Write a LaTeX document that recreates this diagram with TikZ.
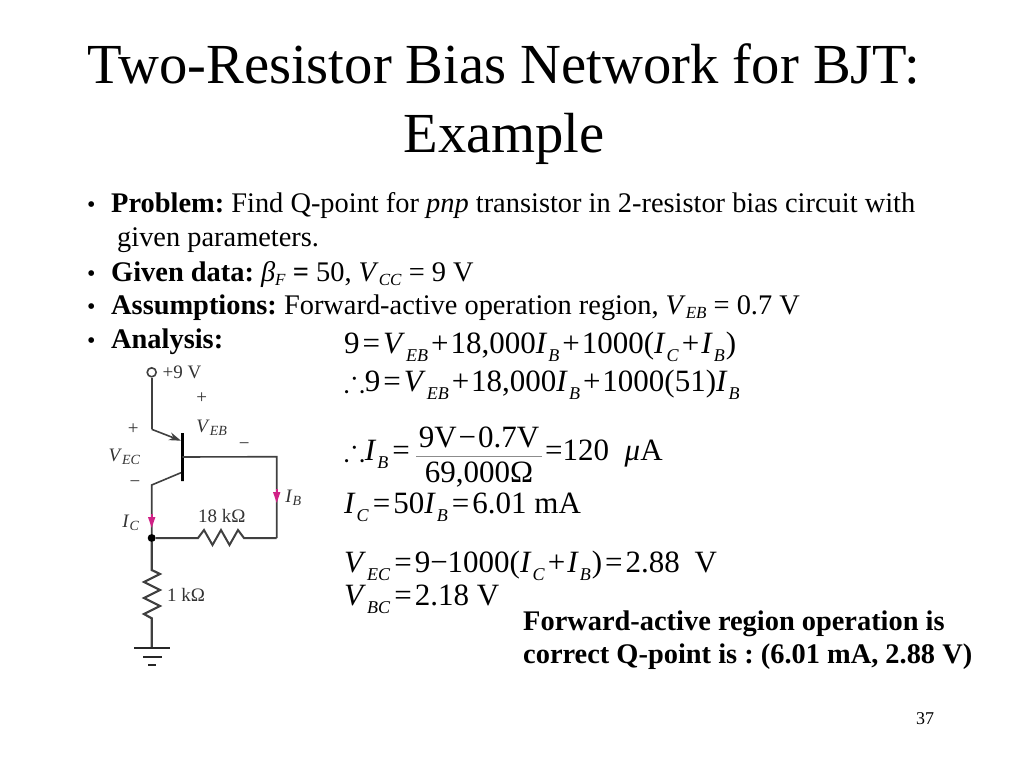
\documentclass[tikz,border=0pt]{standalone}
\usepackage{fix-cm}
\usepackage{amsmath}
\usepackage{amssymb}
\usepackage{fontspec}
\usetikzlibrary{arrows.meta}
\setmainfont{Liberation Serif}
\frenchspacing
\newcommand{\sizedto}[1]{\fontsize{#1}{#1}\selectfont}
\newcommand{\puce}{\makebox[24pt][l]{\sizedto{24}•}}
\newcommand{\lowtext}[1]{\raisebox{-4pt}{\sizedto{17}\textit{#1}}}
\newcommand{\eqlow}[1]{\kern1pt\raisebox{-8pt}{\sizedto{18}\textit{#1}}\kern1pt}
\newcommand{\lowlab}[1]{\raisebox{-3pt}{\sizedto{14}\textit{#1}}}
\newcommand{\equal}{\kern3pt=\kern3pt}
\newcommand{\plusop}{\kern2pt+\kern2pt}
\begin{document}
\begin{tikzpicture}[x=1pt,y=-1pt]
\tikzstyle{wire}=[draw=black!75,line width=1.6pt]
\tikzstyle{lien}=[-{Stealth[length=12pt,width=8pt]},draw=black!75,line width=1.6pt]
\tikzset{titre/.style={font=\sizedto{56.6},anchor=base},
corps/.style={font=\sizedto{28.4},anchor=base west,inner sep=0pt},
calcul/.style={font=\sizedto{31},anchor=base west,inner sep=0pt},
conclu/.style={font=\sizedto{28.4}\bfseries,anchor=base west,inner sep=0pt},
etiq/.style={font=\sizedto{19},text=black!80,inner sep=0pt},
courant/.style={-{Triangle[length=11pt,width=7pt]},draw=magenta!85!black,line width=1.6pt,shorten <=-1pt}}
\useasboundingbox (0,0) rectangle (1024,768);

\node[titre] (T1) at (504,83){Two-Resistor Bias Network for BJT:};
\node[titre] (T2) at (504,152){Example};

\node[corps] (P1) at (87,212){\puce\textbf{Problem:} Find Q-point for \textit{pnp} transistor in 2-resistor bias circuit with};
\node[corps] (P2) at (117,246){given parameters.};
\node[corps] (P3) at (87,281){\puce\textbf{Given data:} \textit{β}\lowtext{F} \textbf{=} 50, \textit{V}\lowtext{CC} = 9 V};
\node[corps] (P4) at (87,314){\puce\textbf{Assumptions:} Forward-active operation region, \textit{V}\lowtext{EB} = 0.7 V};
\node[corps] (P5) at (87,348){\puce\textbf{Analysis:}};

\node[calcul] (E1) at (344,353){9\equal\textit{V}\eqlow{EB}\plusop18,000\textit{I}\eqlow{B}\plusop1000(\textit{I}\eqlow{C}\plusop\textit{I}\eqlow{B})};
\node[calcul] (E2) at (344,391){$\therefore$9\equal\textit{V}\eqlow{EB}\plusop18,000\textit{I}\eqlow{B}\plusop1000(51)\textit{I}\eqlow{B}};
\node[calcul] (E3) at (344,460){$\therefore$\textit{I}\eqlow{B}\equal};
\node[fill=black!45,minimum width=126pt,minimum height=1pt,inner sep=0pt] (Barre) at (479,456){};
\node[font=\sizedto{31},anchor=base,inner sep=0pt] (Num) at (479,447){9V\kern2pt−\kern2pt0.7V};
\node[font=\sizedto{31},anchor=base,inner sep=0pt] (Den) at (479,482){69,000Ω};
\node[calcul] (E3b) at (545,460){=120 \ \textit{μ}A};
\node[calcul] (E4) at (344,513){\textit{I}\eqlow{C}\equal50\textit{I}\eqlow{B}\equal6.01 mA};
\node[calcul] (E5) at (344,572){\textit{V}\eqlow{EC}\equal9−1000(\textit{I}\eqlow{C}\plusop\textit{I}\eqlow{B})\equal2.88\kern7pt\ V};
\node[calcul] (E6) at (344,605){\textit{V}\eqlow{BC}\equal2.18 V};

\node[conclu] (C1) at (523,630){Forward-active region operation is};
\node[conclu] (C2) at (523,663){correct Q-point is : (6.01 mA, 2.88 V)};
\node[font=\sizedto{18}] (N) at (925,719){37};

\node[draw=black!75,line width=1.6pt,circle,minimum size=9pt,inner sep=0pt] (VCC) at (151.7,372.3){};
\node[draw=black,fill=black,line width=3pt,minimum width=0pt,minimum height=48pt,inner sep=0pt,outer sep=0pt] (Base) at (182.3,457){};
\node[circle,fill=black,minimum size=8pt,inner sep=0pt] (J) at (151.7,538){};
\coordinate (Emet) at (151.7,429.3);
\coordinate (EmetB) at (181,440.7);
\coordinate (Coll) at (151.7,485);
\coordinate (CollB) at (181,472.7);
\coordinate (BaseW) at (276.7,456.7);
\coordinate (Coin) at (276.7,538);
\coordinate (Gnd) at (151.7,647.7);

\draw[wire] (VCC) -- (Emet);
\draw[lien] (Emet) -- (EmetB);
\draw[wire] (CollB) -- (Coll) -- (J);
\draw[wire] (Base) -- (BaseW) -- (Coin);
\draw[wire,line width=2pt] (J) -- (198,538) -- (204,530) -- (212.5,545) -- (221,530) -- (229.5,545) -- (238,530) -- (244,538) -- (Coin);
\draw[wire,line width=2.2pt] (J) -- (151.7,570) -- (160,574) -- (144,582) -- (160,590) -- (144,598) -- (160,606) -- (144,614) -- (151.7,618.3) -- (Gnd);
\draw[courant] (151.7,515) -- (151.7,528);
\draw[courant] (276.7,490) -- (276.7,503);

\draw[black!85,line width=2pt] (134.3,647.7) -- (170,647.7);
\draw[black!85,line width=2pt] (143,656.7) -- (161.7,656.7);
\draw[black!85,line width=2pt] (148.3,665) -- (155.7,665);

\node[etiq] (L9) at (182,372){+9 V};
\node[etiq] (Lp1) at (201.7,397.7){+};
\node[etiq] (LEB) at (211.7,428){\textit{V}\lowlab{EB}};
\node[etiq] (Lp2) at (133.3,428.7){+};
\node[etiq] (LEC) at (124.3,456.7){\textit{V}\lowlab{EC}};
\node[etiq] (Lm1) at (135,484){−};
\node[etiq] (Lm2) at (244.3,446){−};
\node[etiq] (LIB) at (293.3,497.7){\textit{I}\lowlab{B}};
\node[etiq] (LIC) at (130.7,523){\textit{I}\lowlab{C}};
\node[etiq] (L18) at (221.7,515.7){18 kΩ};
\node[etiq] (L1) at (186,595){1 kΩ};
\end{tikzpicture}
\end{document}
